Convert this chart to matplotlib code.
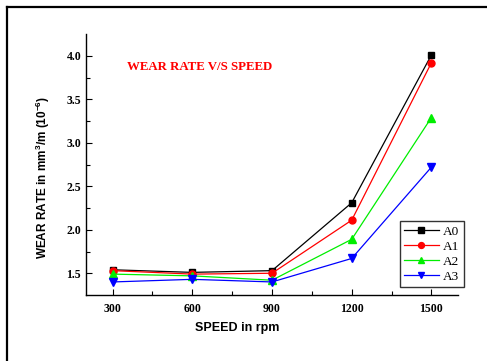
import matplotlib
matplotlib.use("Agg")
import matplotlib.pyplot as plt
from matplotlib.lines import Line2D

speed = [300, 600, 900, 1200, 1500]
a0 = [1.54, 1.51, 1.53, 2.31, 4.01]
a1 = [1.53, 1.49, 1.50, 2.11, 3.92]
a2 = [1.49, 1.47, 1.42, 1.89, 3.29]
a3 = [1.40, 1.43, 1.40, 1.67, 2.72]
labels = ["A0", "A1", "A2", "A3"]
xticks = [300, 600, 900, 1200, 1500]
yticks = [1.5, 2.0, 2.5, 3.0, 3.5, 4.0]

serif = ["Liberation Serif", "DejaVu Serif"]
sans = ["Liberation Sans", "DejaVu Sans"]
plt.rcParams["mathtext.default"] = "regular"

fig = plt.figure(figsize=(4.87, 3.61), dpi=100)
ax = fig.add_axes([86/487, 1-295/361, (458-86)/487, (295-34)/361])

styles = [("black", "s", 4.5), ("red", "o", 5), ("#00ee00", "^", 5.5), ("blue", "v", 5.5)]
for data, lab, (c, m, ms) in zip([a0, a1, a2, a3], labels, styles):
    ax.plot(speed, data, color=c, marker=m, markersize=ms, linewidth=0.9, label=lab)

ax.set_xlim(200, 1600)
ax.set_ylim(1.25, 4.25)
ax.set_xticks(xticks)
ax.set_yticks(yticks)
ax.set_xticks([450, 750, 1050, 1350], minor=True)
ax.set_yticks([1.75, 2.25, 2.75, 3.25, 3.75], minor=True)
ax.set_yticklabels([f"{v:.1f}" for v in yticks])
ax.tick_params(direction="in", which="both", length=3, width=0.8)
ax.tick_params(which="major", length=4)
ax.tick_params(axis="x", pad=6)
for lbl in ax.get_xticklabels() + ax.get_yticklabels():
    lbl.set_family(serif)
    lbl.set_fontweight("bold")
    lbl.set_fontsize(8.5)

ax.spines["top"].set_visible(False)
ax.spines["right"].set_visible(False)
ax.spines["left"].set_linewidth(1.0)
ax.spines["bottom"].set_linewidth(1.0)

ax.set_xlabel("SPEED in rpm", family=sans, fontweight="bold", fontsize=9)
ax.xaxis.set_label_coords((237-86)/(458-86), -0.105)
ax.set_ylabel(r"WEAR RATE in mm$^3$/m (10$^{-6}$)", family=sans, fontweight="bold", fontsize=8.5)
ax.yaxis.set_label_coords(-0.092, 0.452)

ax.text(354, 3.87, "WEAR RATE V/S SPEED", color="red", family=serif, fontweight="bold",
        fontsize=9.3, ha="left", va="center")

leg = ax.legend(loc="lower right", bbox_to_anchor=(1.015, 0.03), prop={"family": serif, "size": 9.5},
                frameon=True, fancybox=False, edgecolor="black", handlelength=2.6, markerscale=0.85,
                handletextpad=0.3, borderpad=0.35, labelspacing=0.2, borderaxespad=0.0)
leg.get_frame().set_linewidth(1.0)

fig.add_artist(Line2D([7/487, 7/487], [0, 1-7/361], color="black", linewidth=1.6, transform=fig.transFigure))
fig.add_artist(Line2D([7/487, 1], [1-7/361, 1-7/361], color="black", linewidth=1.6, transform=fig.transFigure))

fig.savefig("out.png", dpi=100)
